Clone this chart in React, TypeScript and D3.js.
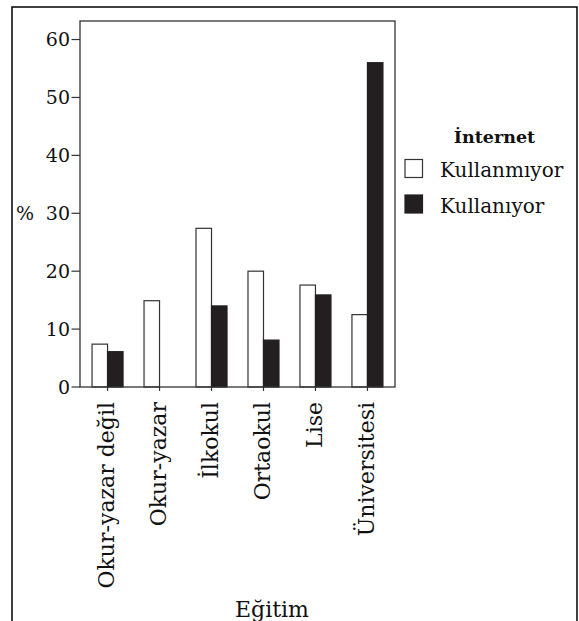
import * as d3 from 'd3';
import * as React from 'react';

// education levels and the share (%) of each internet group
const categories = ['Okur-yazar değil', 'Okur-yazar', 'İlkokul', 'Ortaokul', 'Lise', 'Üniversitesi'];
const kullanmiyor = [7.4, 14.9, 27.4, 20.0, 17.6, 12.5];
const kullaniyor = [6.1, 0, 14.0, 8.1, 15.9, 56.0];
const yTicks = [0, 10, 20, 30, 40, 50, 60];
const seriesNames = ['Kullanmıyor', 'Kullanıyor'];

const W = 579;
const H = 621;
const FONT = '"DejaVu Serif", serif';
const DARK = '#231f20';

const plot = { left: 80, right: 395, top: 21, bottom: 387 };
const barW = 15.5;

export default function App() {
  const x = d3.scalePoint<string>()
    .domain(categories)
    .range([plot.left, plot.right])
    .padding(0.53);

  const y = d3.scaleLinear()
    .domain([0, 63.2])
    .range([plot.bottom, plot.top]);

  const fills = ['#ffffff', DARK];
  const series = [kullanmiyor, kullaniyor];

  return (
    <div style={{ position: 'absolute', left: 0, top: 0 }}>
      <svg width={W} height={H} style={{ display: 'block', background: '#fff' }} fontFamily={FONT}>
        {/* outer frame, runs off the bottom of the picture */}
        <rect x={12} y={7} width={565} height={700} fill="none" stroke="#000" strokeWidth={1.5} />

        {/* bars */}
        {categories.map((c, i) => (
          <g key={c}>
            {series.map((s, k) => {
              const v = s[i];
              if (!v) return null;
              const x0 = (x(c) as number) + (k === 0 ? -barW : 0);
              return (
                <rect
                  key={k}
                  x={x0}
                  y={y(v)}
                  width={barW}
                  height={y(0) - y(v)}
                  fill={fills[k]}
                  stroke={k === 0 ? '#333' : DARK}
                  strokeWidth={1.2}
                />
              );
            })}
          </g>
        ))}

        {/* plot box */}
        <rect
          x={plot.left}
          y={plot.top}
          width={plot.right - plot.left}
          height={plot.bottom - plot.top}
          fill="none"
          stroke="#333"
          strokeWidth={1.3}
        />

        {/* y axis */}
        {yTicks.map(t => (
          <g key={t} transform={`translate(0,${y(t)})`}>
            <line x1={plot.left - 8.5} x2={plot.left} stroke="#333" strokeWidth={1.2} />
            <text x={plot.left - 10} dy="0.36em" textAnchor="end" fontSize={19} fill="#111">{t}</text>
          </g>
        ))}
        <text x={16} y={y(30)} dy="0.36em" fontSize={19} fill="#111">%</text>

        {/* x axis */}
        {categories.map(c => (
          <g key={c}>
            <line x1={x(c)} x2={x(c)} y1={plot.bottom} y2={plot.bottom + 4} stroke="#333" strokeWidth={1.2} />
            <text
              transform={`translate(${x(c)},402) rotate(-90)`}
              dy="0.3em"
              textAnchor="end"
              fontSize={22}
              fill="#111"
            >
              {c}
            </text>
          </g>
        ))}
        <text x={272} y={617} textAnchor="middle" fontSize={22} fill="#111">Eğitim</text>

        {/* legend */}
        <text x={494.5} y={143} textAnchor="middle" fontSize={17.5} fontWeight="bold" fill="#111">İnternet</text>
        {seriesNames.map((n, k) => (
          <g key={n} transform={`translate(405,${159.5 + k * 35.5})`}>
            <rect width={17.5} height={18} fill={fills[k]} stroke={k === 0 ? '#333' : DARK} strokeWidth={1.2} />
            <text x={35} y={17.5} fontSize={20} fill="#111">{n}</text>
          </g>
        ))}
      </svg>
    </div>
  );
}
